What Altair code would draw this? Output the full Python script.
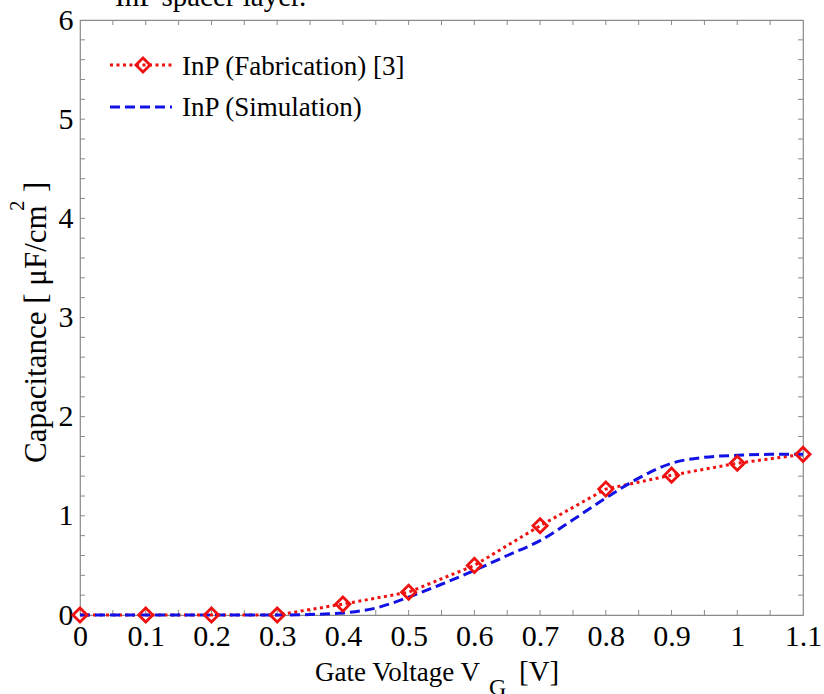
import altair as alt
import pandas as pd

# ---- data ----
fab_v = [0.0, 0.1, 0.2, 0.3, 0.4, 0.5, 0.6, 0.7, 0.8, 0.9, 1.0, 1.1]
fab_c = [0.0, 0.0, 0.0, 0.0, 0.11, 0.23, 0.50, 0.90, 1.27, 1.41, 1.53, 1.62]

sim_v = [0.0, 0.05, 0.1, 0.15, 0.2, 0.25, 0.3, 0.35, 0.4, 0.45, 0.5, 0.55,
         0.6, 0.65, 0.7, 0.75, 0.8, 0.85, 0.9, 0.95, 1.0, 1.05, 1.1]
sim_c = [0.0, 0.0, 0.0, 0.0, 0.0, 0.0, 0.0, 0.005, 0.02, 0.07, 0.18, 0.31,
         0.45, 0.60, 0.75, 0.96, 1.18, 1.38, 1.53, 1.59, 1.61, 1.62, 1.62]

series_names = ["InP (Fabrication) [3]", "InP (Simulation)"]

x_labels = [0.0, 0.1, 0.2, 0.3, 0.4, 0.5, 0.6, 0.7, 0.8, 0.9, 1.0, 1.1]
y_labels = [0, 1, 2, 3, 4, 5, 6]
x_ticks = [0.05, 0.1, 0.15, 0.2, 0.25, 0.3, 0.35, 0.4, 0.45, 0.5, 0.55,
           0.6, 0.65, 0.7, 0.75, 0.8, 0.85, 0.9, 0.95, 1.0, 1.05]
y_ticks = [0.2, 0.4, 0.6, 0.8, 1.0, 1.2, 1.4, 1.6, 1.8, 2.0, 2.2, 2.4, 2.6, 2.8,
           3.0, 3.2, 3.4, 3.6, 3.8, 4.0, 4.2, 4.4, 4.6, 4.8, 5.0, 5.2, 5.4,
           5.6, 5.8]

W, H = 723, 595
RED = "#f01010"
BLUE = "#1212e6"
SERIF = "'Liberation Serif', 'Times New Roman', 'DejaVu Serif', serif"
TICK = "#8a8a8a"

fab = pd.DataFrame({"v": fab_v, "c": fab_c})
sim = pd.DataFrame({"v": sim_v, "c": sim_c})
xt = pd.DataFrame({"t": x_ticks})
yt = pd.DataFrame({"t": y_ticks})
one = pd.DataFrame({"k": [0]})

xs = alt.Scale(domain=[0, 1.1], nice=False, zero=False)
ys = alt.Scale(domain=[0, 6], nice=False)

x_axis = alt.Axis(values=x_labels, format=".1~f", title=None, grid=False,
                  domain=False, ticks=False, labelFont=SERIF, labelFontSize=30,
                  labelColor="black", labelPadding=6, labelFlush=False)
y_axis = alt.Axis(values=y_labels, format="d", title=None, grid=False,
                  domain=False, ticks=False, labelFont=SERIF, labelFontSize=30,
                  labelColor="black", labelPadding=7, labelFlush=False)

base_axes = alt.Chart(fab).mark_point(opacity=0).encode(
    x=alt.X("v:Q", scale=xs, axis=x_axis),
    y=alt.Y("c:Q", scale=ys, axis=y_axis),
)

tick_bottom = alt.Chart(xt).mark_rule(color=TICK, strokeWidth=1).encode(
    x=alt.X("t:Q", scale=xs), y=alt.value(H), y2=alt.value(H - 5))
tick_top = alt.Chart(xt).mark_rule(color=TICK, strokeWidth=1).encode(
    x=alt.X("t:Q", scale=xs), y=alt.value(0), y2=alt.value(5))
tick_left = alt.Chart(yt).mark_rule(color=TICK, strokeWidth=1).encode(
    y=alt.Y("t:Q", scale=ys), x=alt.value(0), x2=alt.value(5))
tick_right = alt.Chart(yt).mark_rule(color=TICK, strokeWidth=1).encode(
    y=alt.Y("t:Q", scale=ys), x=alt.value(W), x2=alt.value(W - 5))

fab_line = alt.Chart(fab).mark_line(color=RED, strokeWidth=3,
                                    strokeDash=[3, 3.5]).encode(
    x=alt.X("v:Q", scale=xs), y=alt.Y("c:Q", scale=ys))
sim_line = alt.Chart(sim).mark_line(color=BLUE, strokeWidth=3,
                                    strokeDash=[10, 5],
                                    interpolate="monotone").encode(
    x=alt.X("v:Q", scale=xs), y=alt.Y("c:Q", scale=ys))
fab_pts = alt.Chart(fab).mark_point(shape="diamond", filled=False, color=RED,
                                    size=200, strokeWidth=2.8, opacity=1).encode(
    x=alt.X("v:Q", scale=xs), y=alt.Y("c:Q", scale=ys))

# ---- legend (inside plot, top-left) ----
leg_r1 = alt.Chart(one).mark_rule(color=RED, strokeWidth=3,
                                  strokeDash=[3, 3.5]).encode(
    x=alt.value(30), x2=alt.value(92), y=alt.value(45))
leg_p1 = alt.Chart(one).mark_point(shape="diamond", filled=False, color=RED,
                                   size=200, strokeWidth=2.8, opacity=1).encode(
    x=alt.value(63), y=alt.value(45))
leg_t1 = alt.Chart(one).mark_text(text=series_names[0], font=SERIF, fontSize=27,
                                  align="left", baseline="middle",
                                  color="black").encode(
    x=alt.value(102), y=alt.value(47))
leg_r2 = alt.Chart(one).mark_rule(color=BLUE, strokeWidth=3,
                                  strokeDash=[10, 5]).encode(
    x=alt.value(30), x2=alt.value(92), y=alt.value(87))
leg_t2 = alt.Chart(one).mark_text(text=series_names[1], font=SERIF, fontSize=27,
                                  align="left", baseline="middle",
                                  color="black").encode(
    x=alt.value(102), y=alt.value(88))

# ---- axis titles with sub/superscripts ----
xt1 = alt.Chart(one).mark_text(text="Gate Voltage V", font=SERIF, fontSize=27,
                               align="left", baseline="alphabetic",
                               color="black").encode(
    x=alt.value(235), y=alt.value(661))
xt2 = alt.Chart(one).mark_text(text="G", font=SERIF, fontSize=24,
                               align="left", baseline="alphabetic",
                               color="black").encode(
    x=alt.value(409), y=alt.value(675))
xt3 = alt.Chart(one).mark_text(text="[V]", font=SERIF, fontSize=29,
                               align="left", baseline="alphabetic",
                               color="black").encode(
    x=alt.value(439), y=alt.value(661))

yt1 = alt.Chart(one).mark_text(text="Capacitance [ \u03bcF/cm", font=SERIF,
                               fontSize=31, angle=270, align="left",
                               baseline="middle", color="black").encode(
    x=alt.value(-43), y=alt.value(443))
yt2 = alt.Chart(one).mark_text(text="2", font=SERIF, fontSize=21, angle=270,
                               align="left", baseline="middle",
                               color="black").encode(
    x=alt.value(-62), y=alt.value(191))
yt3 = alt.Chart(one).mark_text(text="]", font=SERIF, fontSize=31, angle=270,
                               align="left", baseline="middle",
                               color="black").encode(
    x=alt.value(-43), y=alt.value(172))

# clipped caption remnant at the very top of the page
top_txt = alt.Chart(one).mark_text(text="InP spacer layer.", font=SERIF,
                                   fontSize=29, align="left",
                                   baseline="alphabetic", color="black").encode(
    x=alt.value(35), y=alt.value(-14))

chart = alt.layer(
    base_axes, tick_bottom, tick_top, tick_left, tick_right,
    fab_line, sim_line, fab_pts,
    leg_r1, leg_p1, leg_t1, leg_r2, leg_t2,
    xt1, xt2, xt3, yt1, yt2, yt3, top_txt,
).properties(
    width=W, height=H,
    autosize=alt.AutoSizeParams(type="none"),
    padding={"left": 80, "top": 20, "right": 21, "bottom": 79},
    background="white",
).configure_view(
    stroke=TICK, strokeWidth=1.2,
)

chart.save("out.html", embed_options={"renderer": "svg", "actions": False})
